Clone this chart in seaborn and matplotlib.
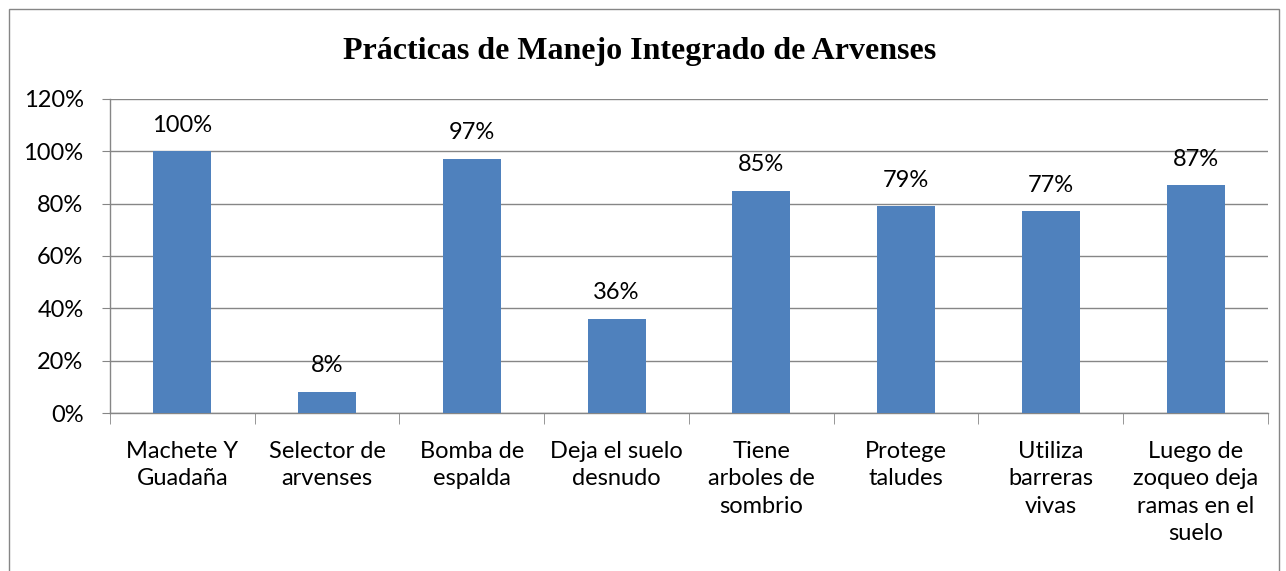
import matplotlib
matplotlib.use('Agg')
import matplotlib.pyplot as plt
import seaborn as sns
import pandas as pd
from matplotlib.patches import Rectangle
from matplotlib.ticker import PercentFormatter

# Data
categorias = ['Machete Y\nGuadaña', 'Selector de\narvenses', 'Bomba de\nespalda',
              'Deja el suelo\ndesnudo', 'Tiene\narboles de\nsombrio', 'Protege\ntaludes',
              'Utiliza\nbarreras\nvivas', 'Luego de\nzoqueo deja\nramas en el\nsuelo']
porcentajes = [100, 8, 97, 36, 85, 79, 77, 87]
titulo = 'Prácticas de Manejo Integrado de Arvenses'

df = pd.DataFrame({'cat': categorias, 'pct': porcentajes})

sns.set_style('white')
plt.rcParams['font.family'] = ['Lato', 'DejaVu Sans']
plt.rcParams['text.color'] = 'black'
plt.rcParams['xtick.labelcolor'] = 'black'
plt.rcParams['ytick.labelcolor'] = 'black'

fig = plt.figure(figsize=(12.86, 5.71), dpi=100)
ax = fig.add_axes([0.0855, 0.2767, 0.9005, 0.55])

sns.barplot(data=df, x='cat', y='pct', color='#4F81BD', width=0.4, ax=ax,
            saturation=1, zorder=3, linewidth=0)

ax.set_ylim(0, 120)
ax.set_xlim(-0.5, len(categorias) - 0.5)
ax.set_yticks(range(0, 121, 20))
ax.yaxis.set_major_formatter(PercentFormatter(decimals=0))
ax.grid(axis='y', color='#868686', lw=1, zorder=0)
ax.set_xlabel('')
ax.set_ylabel('')

for s in ['top', 'right']:
    ax.spines[s].set_visible(False)
for s in ['left', 'bottom']:
    ax.spines[s].set_color('#868686')
    ax.spines[s].set_linewidth(1)

ax.tick_params(axis='y', length=6, color='#868686', labelsize=17, pad=13, left=True,
               labelcolor='black')
ax.tick_params(axis='x', length=0, labelsize=17, pad=20, labelcolor='black')
for lbl in ax.get_xticklabels():
    lbl.set_linespacing(1.38)
# tick marks between categories
ax.set_xticks([i - 0.5 for i in range(len(categorias) + 1)], minor=True)
ax.tick_params(axis='x', which='minor', length=8, color='#868686', bottom=True)

for i, v in enumerate(porcentajes):
    ax.text(i, v + 6, f'{v}%', ha='center', va='bottom', fontsize=17, color='black')

fig.text(0.4977, 0.909, titulo, ha='center', va='center', fontsize=23,
         fontweight='bold', family='Liberation Serif', color='black')

fig.patches.append(Rectangle((9 / 1286, -0.05), 1270 / 1286, 1 - 9 / 571 + 0.05,
                             transform=fig.transFigure, fill=False,
                             edgecolor='#868686', lw=1))

fig.savefig('out.png', dpi=100)
